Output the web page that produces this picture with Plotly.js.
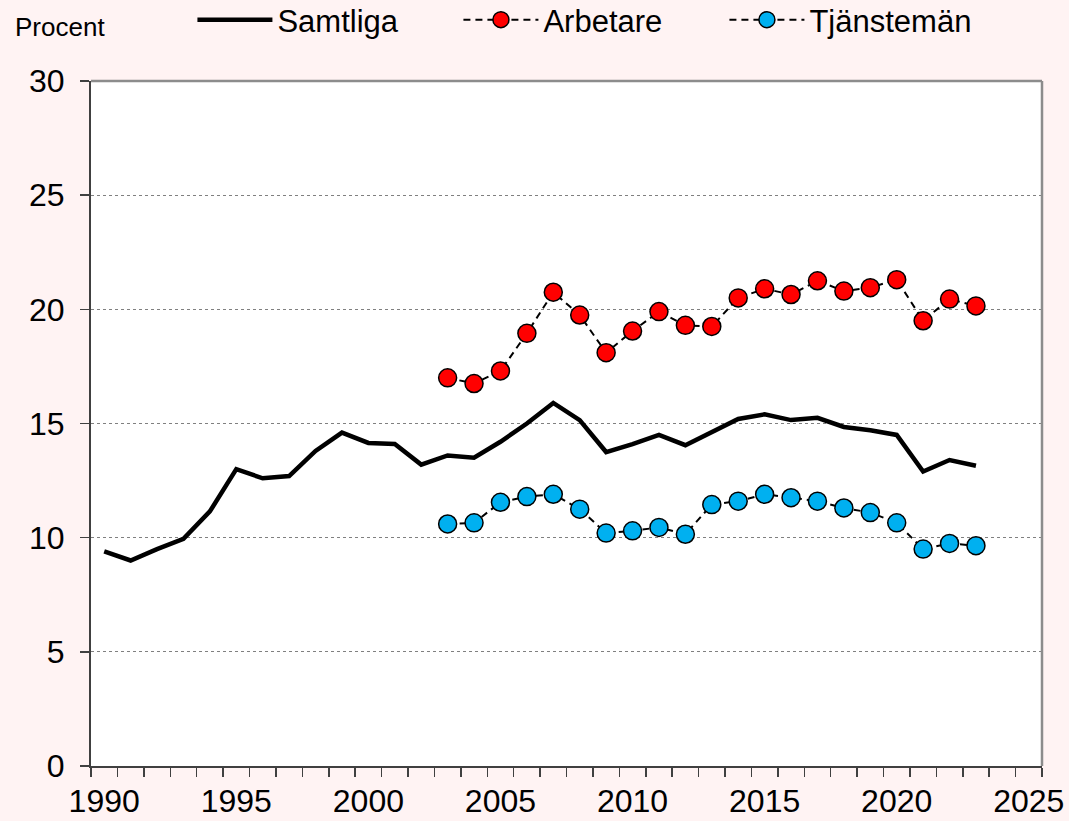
<!DOCTYPE html>
<html>
<head>
<meta charset="utf-8">
<script src="https://cdn.plot.ly/plotly-3.0.1.min.js"></script>
<style>
html,body{margin:0;padding:0;background:#FFF3F3;}
#chart{width:1069px;height:821px;}
</style>
</head>
<body>
<div id="chart"></div>
<script>
const yearsAll = [1990,1991,1992,1993,1994,1995,1996,1997,1998,1999,2000,2001,2002,2003,2004,2005,2006,2007,2008,2009,2010,2011,2012,2013,2014,2015,2016,2017,2018,2019,2020,2021,2022,2023];
const samtliga = [9.4,9.0,9.5,9.95,11.15,13.0,12.6,12.7,13.8,14.6,14.15,14.1,13.2,13.6,13.5,14.2,15.0,15.9,15.15,13.75,14.1,14.5,14.05,14.6,15.2,15.4,15.15,15.25,14.85,14.7,14.5,12.9,13.4,13.15];
const yearsSub = [2003,2004,2005,2006,2007,2008,2009,2010,2011,2012,2013,2014,2015,2016,2017,2018,2019,2020,2021,2022,2023];
const arbetare = [17.0,16.75,17.3,18.95,20.75,19.75,18.1,19.05,19.9,19.3,19.25,20.5,20.9,20.65,21.25,20.8,20.95,21.3,19.5,20.45,20.15];
const tjanstemän = [10.6,10.65,11.55,11.8,11.9,11.25,10.2,10.3,10.45,10.15,11.45,11.6,11.9,11.75,11.6,11.3,11.1,10.65,9.5,9.75,9.65];
const xTickVals = [1990,1995,2000,2005,2010,2015,2020,2025];
const seriesNames = ['Samtliga','Arbetare','Tjänstemän'];

const FONT = 'Liberation Sans, Arial, sans-serif';

const traces = [
  {x: yearsAll, y: samtliga, name: seriesNames[0], type: 'scatter', mode: 'lines',
   line: {color: '#000000', width: 4.5}},
  {x: yearsSub, y: arbetare, name: seriesNames[1], type: 'scatter', mode: 'lines+markers',
   line: {color: '#000000', width: 2, dash: '7px,5px'},
   marker: {color: '#FF0000', size: 18, line: {color: '#000000', width: 1.5}}},
  {x: yearsSub, y: tjanstemän, name: seriesNames[2], type: 'scatter', mode: 'lines+markers',
   line: {color: '#000000', width: 2, dash: '7px,5px'},
   marker: {color: '#00B0F0', size: 18, line: {color: '#000000', width: 1.5}}}
];

const layout = {
  width: 1069, height: 821,
  paper_bgcolor: '#FFF3F3', plot_bgcolor: '#FFFFFF',
  margin: {l: 91, r: 27, t: 81, b: 55, pad: 0},
  font: {family: FONT, color: '#000000', size: 28},
  showlegend: true,
  legend: {orientation: 'h', xref: 'container', yref: 'container',
           x: 0.18, xanchor: 'left', y: 0.9756, yanchor: 'middle',
           font: {family: FONT, size: 31, color: '#000'}, bgcolor: 'rgba(0,0,0,0)',
           itemwidth: 75, entrywidth: 176, tracegroupgap: 0, traceorder: 'normal'},
  xaxis: {range: [1989.5, 2025.5], tickmode: 'array', tickvals: xTickVals,
          ticks: '', showgrid: false, zeroline: false,
          showline: true, linecolor: '#404040', linewidth: 2,
          tickfont: {family: FONT, size: 32}, ticklabelstandoff: 6,
          minor: {tickmode: 'linear', tick0: 1989.5, dtick: 1, ticks: 'outside', ticklen: 9,
                  tickwidth: 1.5, tickcolor: '#404040', showgrid: false}},
  yaxis: {range: [0, 30], tickmode: 'linear', tick0: 0, dtick: 5,
          ticks: 'outside', ticklen: 9, tickwidth: 1.5, tickcolor: '#404040',
          showline: true, linecolor: '#404040', linewidth: 2,
          showgrid: true, gridcolor: '#808080', griddash: 'dot', gridwidth: 1,
          zeroline: false, tickfont: {family: FONT, size: 32}, ticklabelstandoff: 9},
  shapes: [
    {type: 'line', xref: 'paper', yref: 'paper', x0: 0, x1: 1, y0: 1, y1: 1,
     line: {color: '#8C8C8C', width: 2.5}},
    {type: 'line', xref: 'paper', yref: 'paper', x0: 1, x1: 1, y0: 0, y1: 1,
     line: {color: '#8C8C8C', width: 2.5}}
  ],
  annotations: [
    {text: 'Procent', xref: 'paper', yref: 'paper', x: -0.0825, y: 1.0788, xanchor: 'left', yanchor: 'middle',
     showarrow: false, font: {family: FONT, size: 26, color: '#000'}}
  ]
};

Plotly.newPlot('chart', traces, layout, {displayModeBar: false, staticPlot: true});
</script>
</body>
</html>
